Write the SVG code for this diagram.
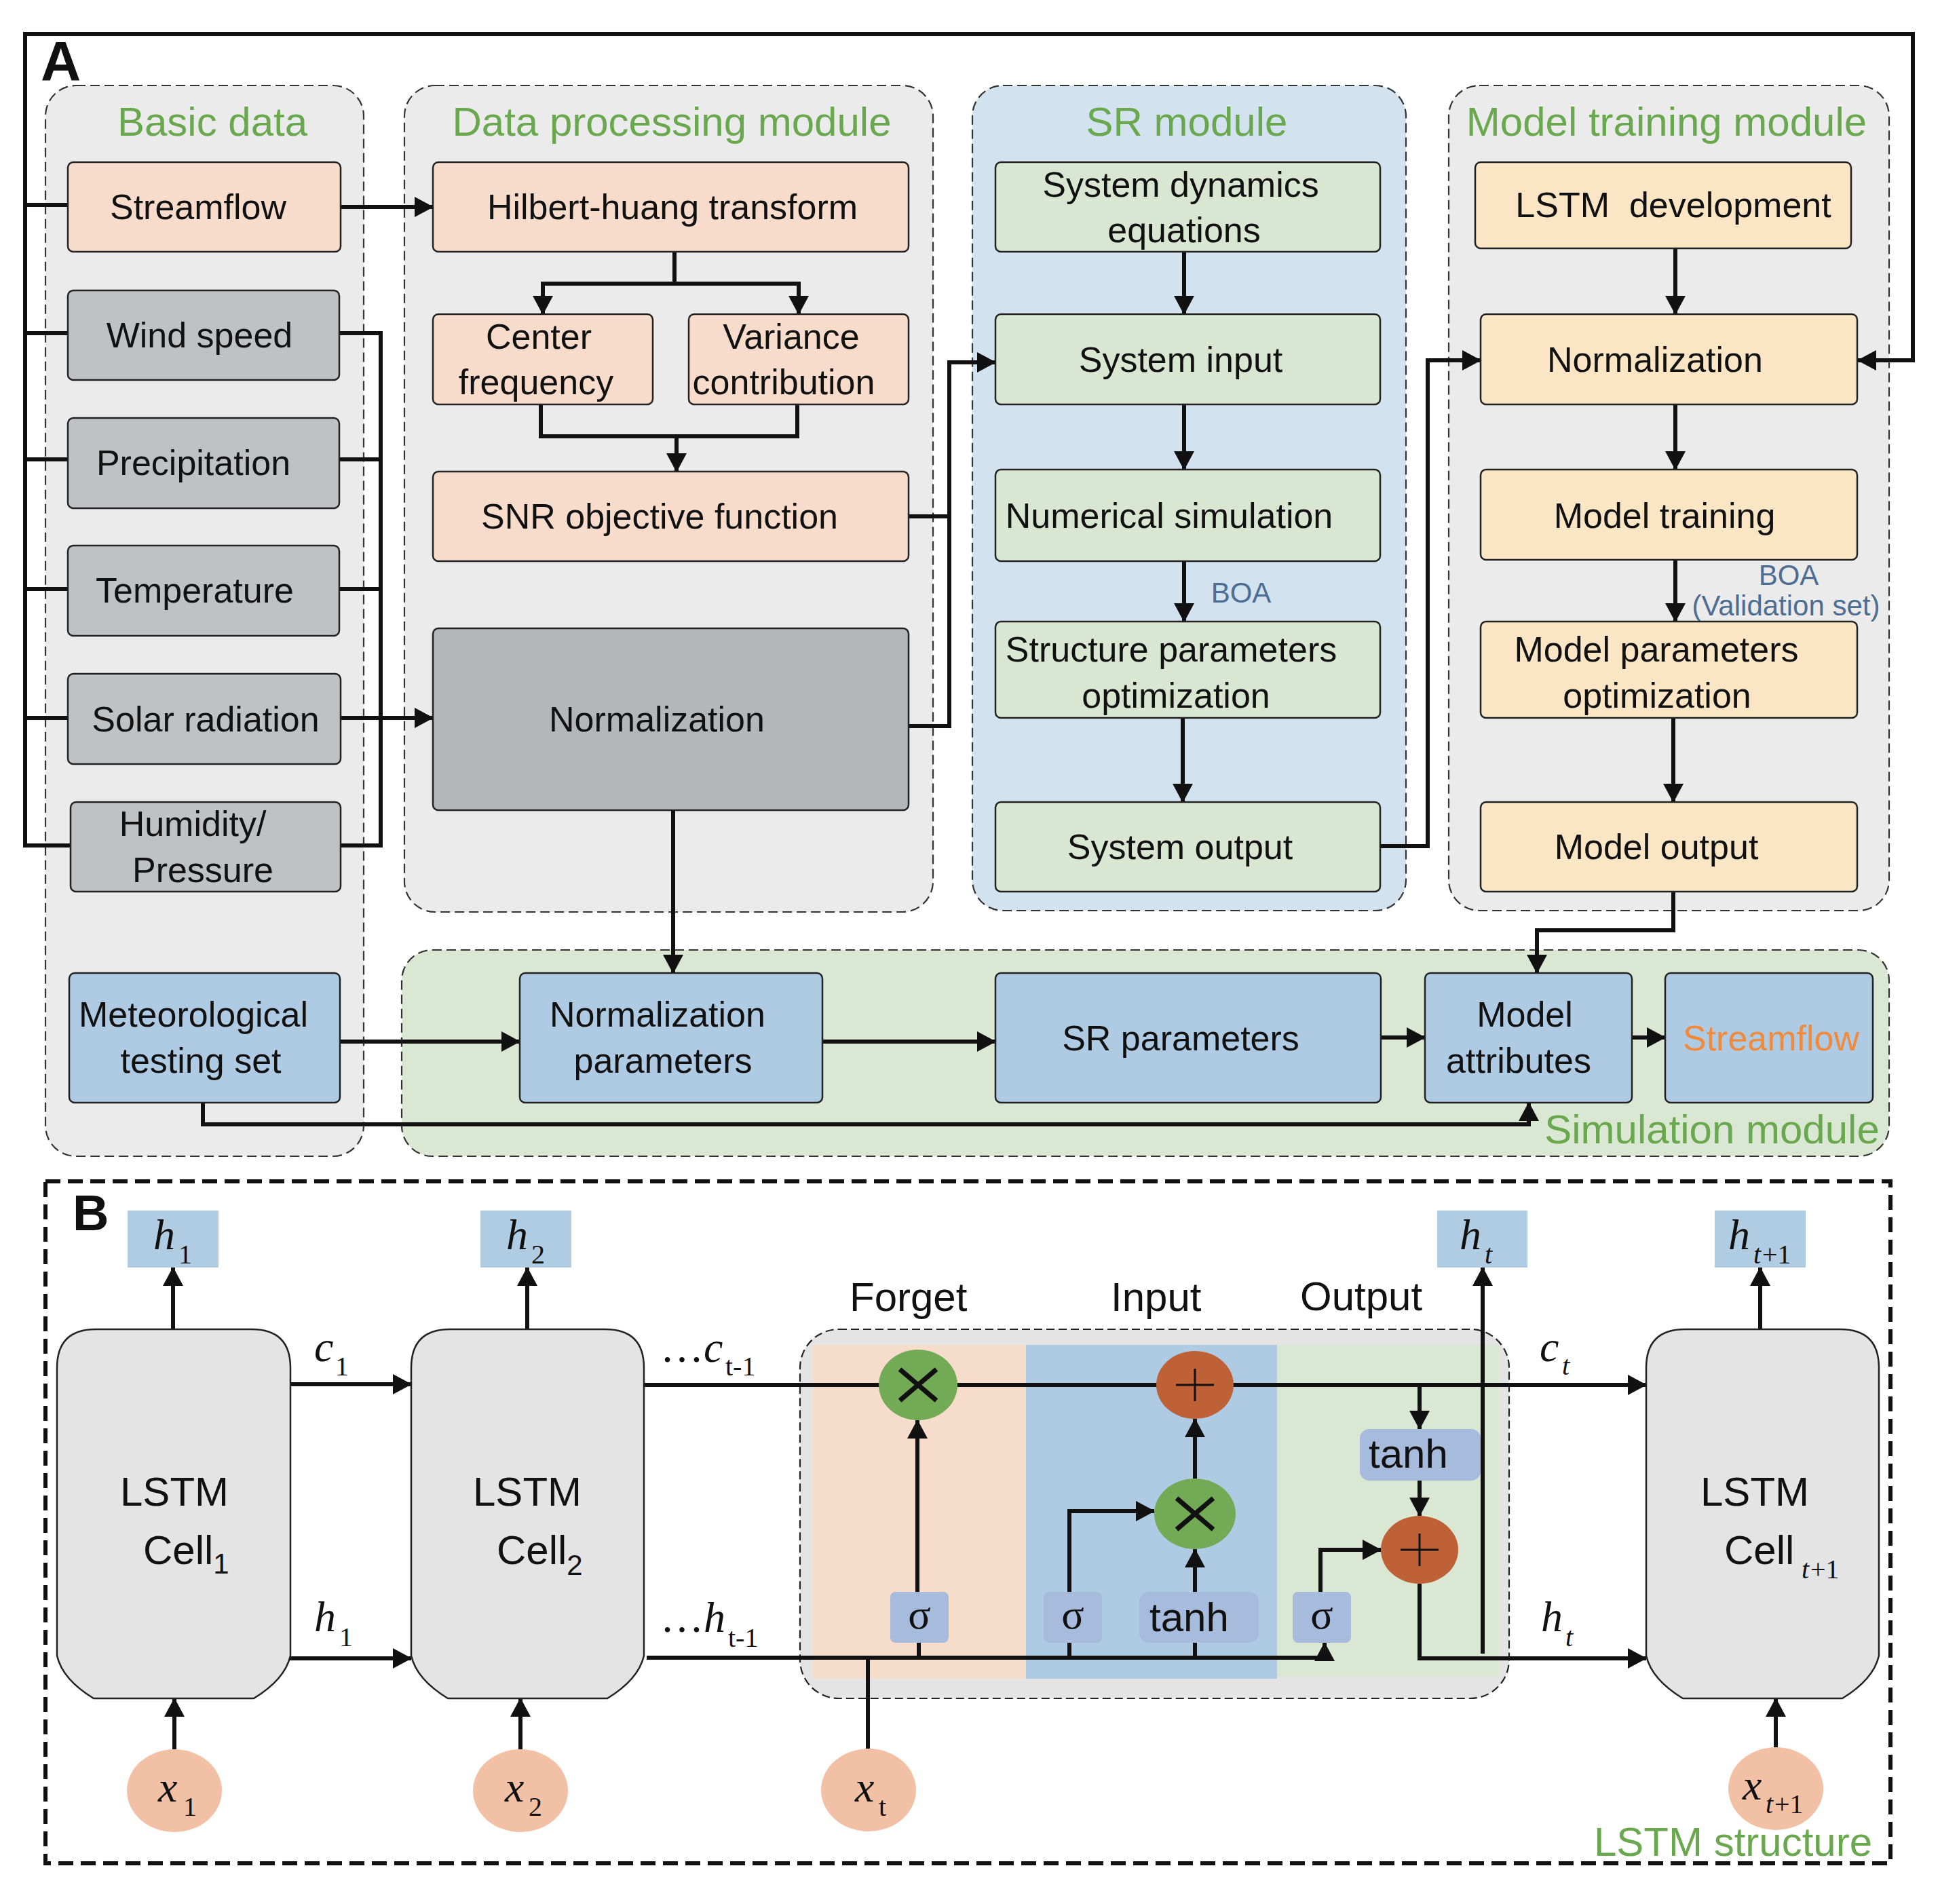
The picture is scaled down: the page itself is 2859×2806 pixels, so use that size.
<svg xmlns="http://www.w3.org/2000/svg" width="2859" height="2806" viewBox="0 0 2859 2806">
<defs>
<style>
.panel{stroke:#333;stroke-width:2.2;stroke-dasharray:14 7}
.pg{fill:#EBEBEB}
.box{stroke:#222;stroke-width:2.5}
.peach{fill:#F8DCCB}
.gray{fill:#C0C1C3}
.dgray{fill:#B5B6B8}
.green{fill:#D9E7D2}
.yellow{fill:#FAE6C5}
.blue{fill:#AECBE3}
.t{font-family:"Liberation Sans",Arial,Helvetica,sans-serif;font-size:52px;fill:#111;text-anchor:middle}
.ts{font-family:"Liberation Sans",Arial,Helvetica,sans-serif;font-size:60px;fill:#111}
.title{font-family:"Liberation Sans",Arial,Helvetica,sans-serif;font-size:60px;fill:#6AA84F;text-anchor:middle}
.boa{font-family:"Liberation Sans",Arial,Helvetica,sans-serif;font-size:42px;fill:#4D6D93;text-anchor:middle}
.conn{fill:none;stroke:#111;stroke-width:6}
.it{font-family:"Liberation Serif","Times New Roman",serif;font-style:italic;font-size:64px;fill:#111}
.sub{font-family:"Liberation Serif","Times New Roman",serif;font-size:40px;fill:#111}
.subi{font-family:"Liberation Serif","Times New Roman",serif;font-style:italic;font-size:40px;fill:#111}
.sig{font-family:"Liberation Serif","Times New Roman",serif;font-size:62px;fill:#111;text-anchor:middle}
.hbox{fill:#AFCCE3}
.sbox{fill:#A7BBDD}
.cell{fill:#E4E4E4;stroke:#222;stroke-width:2.5}
.xin{fill:#F2C0A4}
.mul{fill:#72AA55}
.add{fill:#BE6136}
</style>
<marker id="ah" markerUnits="userSpaceOnUse" markerWidth="28" markerHeight="30" refX="27" refY="15" orient="auto"><path d="M0,0 L28,15 L0,30 z" fill="#111"/></marker>
</defs>
<rect width="2859" height="2806" fill="#fff"/>

<!-- Panels -->
<g id="panel-basic"><rect class="panel pg" x="67" y="126" width="469" height="1578" rx="45"/><text class="title" x="313" y="200">Basic data</text></g>
<g id="panel-dataproc"><rect class="panel pg" x="596" y="126" width="779" height="1218" rx="45"/><text class="title" x="990" y="200">Data processing module</text></g>
<g id="panel-sr"><rect class="panel" fill="#D3E2EF" x="1433" y="126" width="639" height="1216" rx="45"/><text class="title" x="1749" y="200">SR module</text></g>
<g id="panel-model"><rect class="panel pg" x="2135" y="126" width="649" height="1216" rx="45"/><text class="title" x="2456" y="200">Model training module</text></g>
<g id="panel-sim"><rect class="panel" fill="#D9E7D3" x="592" y="1400" width="2192" height="304" rx="45"/><text class="title" x="2523" y="1685">Simulation module</text></g>

<text x="60" y="118" font-family="Liberation Sans,Arial,sans-serif" font-weight="bold" font-size="82" fill="#111">A</text>

<!-- Connectors A -->
<g id="connectors-a">
<path class="conn" d="M100,302 H37 V50 H2819 V531 H2738" marker-end="url(#ah)"/>
<path class="conn" d="M37,50 V1246 H104"/>
<path class="conn" d="M37,491 H100 M37,677 H100 M37,868 H100 M37,1058 H100"/>
<path class="conn" d="M500,491 H561 V1246 H502 M500,677 H561 M500,868 H561"/>
<path class="conn" d="M502,1058 H638" marker-end="url(#ah)"/>
<path class="conn" d="M502,305 H638" marker-end="url(#ah)"/>
<path class="conn" d="M994,371 V418 H800 V463" marker-end="url(#ah)"/>
<path class="conn" d="M994,418 H1177 V463" marker-end="url(#ah)"/>
<path class="conn" d="M797,596 V643 H1175 V596"/>
<path class="conn" d="M997,643 V695" marker-end="url(#ah)"/>
<path class="conn" d="M1339,761 H1399 V534 H1467" marker-end="url(#ah)"/>
<path class="conn" d="M1339,1070 H1399 V760"/>
<path class="conn" d="M992,1194 V1434" marker-end="url(#ah)"/>
<path class="conn" d="M1745,371 V463" marker-end="url(#ah)"/>
<path class="conn" d="M1745,596 V692" marker-end="url(#ah)"/>
<path class="conn" d="M1745,827 V916" marker-end="url(#ah)"/>
<path class="conn" d="M1743,1058 V1182" marker-end="url(#ah)"/>
<path class="conn" d="M2034,1247 H2104 V531 H2182" marker-end="url(#ah)"/>
<path class="conn" d="M2469,366 V463" marker-end="url(#ah)"/>
<path class="conn" d="M2469,596 V692" marker-end="url(#ah)"/>
<path class="conn" d="M2469,825 V916" marker-end="url(#ah)"/>
<path class="conn" d="M2466,1058 V1182" marker-end="url(#ah)"/>
<path class="conn" d="M2466,1314 V1371 H2265 V1434" marker-end="url(#ah)"/>
<path class="conn" d="M501,1535 H766" marker-end="url(#ah)"/>
<path class="conn" d="M1212,1535 H1467" marker-end="url(#ah)"/>
<path class="conn" d="M2035,1529 H2100" marker-end="url(#ah)"/>
<path class="conn" d="M2405,1529 H2454" marker-end="url(#ah)"/>
<path class="conn" d="M299,1625 V1657 H2253 V1625" marker-end="url(#ah)"/>
<text class="boa" x="1829" y="888">BOA</text>
<text class="boa" x="2636" y="862">BOA</text>
<text class="boa" x="2632" y="907">(Validation set)</text>
</g>

<!-- Nodes A -->
<g id="n-streamflow"><rect class="box peach" x="100" y="239" width="402" height="132" rx="8"/><text class="t" x="292" y="323">Streamflow</text></g>
<g id="n-wind"><rect class="box gray" x="100" y="428" width="400" height="132" rx="8"/><text class="t" x="294" y="512">Wind speed</text></g>
<g id="n-precip"><rect class="box gray" x="100" y="616" width="400" height="133" rx="8"/><text class="t" x="285" y="700">Precipitation</text></g>
<g id="n-temp"><rect class="box gray" x="100" y="804" width="400" height="133" rx="8"/><text class="t" x="287" y="888">Temperature</text></g>
<g id="n-solar"><rect class="box gray" x="100" y="993" width="402" height="133" rx="8"/><text class="t" x="303" y="1078">Solar radiation</text></g>
<g id="n-humid"><rect class="box gray" x="104" y="1182" width="398" height="132" rx="8"/><text class="t" x="284" y="1232">Humidity/</text><text class="t" x="299" y="1300">Pressure</text></g>
<g id="n-met"><rect class="box blue" x="102" y="1434" width="399" height="191" rx="8"/><text class="t" x="285" y="1513">Meteorological</text><text class="t" x="296" y="1581">testing set</text></g>

<g id="n-hht"><rect class="box peach" x="638" y="239" width="701" height="132" rx="8"/><text class="t" x="991" y="323">Hilbert-huang transform</text></g>
<g id="n-cf"><rect class="box peach" x="638" y="463" width="324" height="133" rx="8"/><text class="t" x="794" y="514">Center</text><text class="t" x="790" y="581">frequency</text></g>
<g id="n-vc"><rect class="box peach" x="1015" y="463" width="324" height="133" rx="8"/><text class="t" x="1166" y="514">Variance</text><text class="t" x="1155" y="581">contribution</text></g>
<g id="n-snr"><rect class="box peach" x="638" y="695" width="701" height="132" rx="8"/><text class="t" x="972" y="779">SNR objective function</text></g>
<g id="n-norm1"><rect class="box dgray" x="638" y="926" width="701" height="268" rx="8"/><text class="t" x="968" y="1078">Normalization</text></g>

<g id="n-sde"><rect class="box green" x="1467" y="239" width="567" height="132" rx="8"/><text class="t" x="1740" y="290">System dynamics</text><text class="t" x="1745" y="357">equations</text></g>
<g id="n-sin"><rect class="box green" x="1467" y="463" width="567" height="133" rx="8"/><text class="t" x="1740" y="548">System input</text></g>
<g id="n-num"><rect class="box green" x="1467" y="692" width="567" height="135" rx="8"/><text class="t" x="1723" y="778">Numerical simulation</text></g>
<g id="n-spo"><rect class="box green" x="1467" y="916" width="567" height="142" rx="8"/><text class="t" x="1726" y="975">Structure parameters</text><text class="t" x="1733" y="1043">optimization</text></g>
<g id="n-sout"><rect class="box green" x="1467" y="1182" width="567" height="132" rx="8"/><text class="t" x="1739" y="1266">System output</text></g>

<g id="n-lstmdev"><rect class="box yellow" x="2174" y="239" width="554" height="127" rx="8"/><text class="t" x="2466" y="320" xml:space="preserve">LSTM  development</text></g>
<g id="n-norm2"><rect class="box yellow" x="2182" y="463" width="555" height="133" rx="8"/><text class="t" x="2439" y="548">Normalization</text></g>
<g id="n-mtrain"><rect class="box yellow" x="2182" y="692" width="555" height="133" rx="8"/><text class="t" x="2453" y="778">Model training</text></g>
<g id="n-mpo"><rect class="box yellow" x="2182" y="916" width="555" height="142" rx="8"/><text class="t" x="2441" y="975">Model parameters</text><text class="t" x="2442" y="1043">optimization</text></g>
<g id="n-mout"><rect class="box yellow" x="2182" y="1182" width="555" height="132" rx="8"/><text class="t" x="2441" y="1266">Model output</text></g>

<g id="n-normp"><rect class="box blue" x="766" y="1434" width="446" height="191" rx="8"/><text class="t" x="969" y="1513">Normalization</text><text class="t" x="977" y="1581">parameters</text></g>
<g id="n-srp"><rect class="box blue" x="1467" y="1434" width="568" height="191" rx="8"/><text class="t" x="1740" y="1548">SR parameters</text></g>
<g id="n-mattr"><rect class="box blue" x="2100" y="1434" width="305" height="191" rx="8"/><text class="t" x="2247" y="1513">Model</text><text class="t" x="2238" y="1581">attributes</text></g>
<g id="n-sfout"><rect class="box blue" x="2454" y="1434" width="306" height="191" rx="8"/><text class="t" x="2610" y="1548" style="fill:#F08A3D">Streamflow</text></g>

<!-- Part B -->
<g id="panel-lstm">
<rect x="67" y="1741" width="2719" height="1005" fill="none" stroke="#111" stroke-width="6" stroke-dasharray="22 11"/>
<text x="107" y="1813" font-family="Liberation Sans,Arial,sans-serif" font-weight="bold" font-size="74" fill="#111">B</text>
<text class="title" x="2554" y="2735">LSTM structure</text>
</g>
<g id="gate-panel">
<rect x="1179" y="1959" width="1045" height="544" rx="57" fill="#E4E4E4" stroke="#222" stroke-width="2.2" stroke-dasharray="12 6"/>
<rect x="1198" y="1982" width="314" height="492" fill="#F6DCCB"/>
<rect x="1512" y="1982" width="370" height="492" fill="#AECBE3"/>
<rect x="1882" y="1982" width="327" height="489" fill="#D9E7D3"/>
<text class="ts" x="1252" y="1932">Forget</text>
<text class="ts" x="1637" y="1932">Input</text>
<text class="ts" x="1916" y="1931">Output</text>
</g>

<g id="connectors-b">
<path class="conn" d="M255,1959 V1868" marker-end="url(#ah)"/>
<path class="conn" d="M777,1959 V1868" marker-end="url(#ah)"/>
<path class="conn" d="M2185,2437 V1868" marker-end="url(#ah)"/>
<path class="conn" d="M2594,1959 V1868" marker-end="url(#ah)"/>
<path class="conn" d="M257,2578 V2503" marker-end="url(#ah)"/>
<path class="conn" d="M767,2578 V2503" marker-end="url(#ah)"/>
<path class="conn" d="M2617,2575 V2503" marker-end="url(#ah)"/>
<path class="conn" d="M428,2040 H606" marker-end="url(#ah)"/>
<path class="conn" d="M426,2444 H606" marker-end="url(#ah)"/>
<path class="conn" d="M949,2041 H2426" marker-end="url(#ah)"/>
<path class="conn" d="M953,2443 H1952 V2421" marker-end="url(#ah)"/>
<path class="conn" d="M1354,2443 V2420 M1576,2443 V2420 M1761,2443 V2420"/>
<path class="conn" d="M1279,2577 V2443"/>
<path class="conn" d="M1352,2346 V2093" marker-end="url(#ah)"/>
<path class="conn" d="M1576,2346 V2227 H1701" marker-end="url(#ah)"/>
<path class="conn" d="M1761,2346 V2283" marker-end="url(#ah)"/>
<path class="conn" d="M1761,2179 V2091" marker-end="url(#ah)"/>
<path class="conn" d="M2092,2041 V2106" marker-end="url(#ah)"/>
<path class="conn" d="M2092,2182 V2234" marker-end="url(#ah)"/>
<path class="conn" d="M1946,2346 V2284 H2035" marker-end="url(#ah)"/>
<path class="conn" d="M2092,2334 V2444 H2426" marker-end="url(#ah)"/>
<text class="it" x="463" y="2006">c</text><text class="sub" x="494" y="2027">1</text>
<text class="it" x="463" y="2404">h</text><text class="sub" x="500" y="2426">1</text>
<text class="it" x="973" y="2007"><tspan font-style="normal">…</tspan>c</text><text class="sub" x="1069" y="2027">t-1</text>
<text class="it" x="973" y="2405"><tspan font-style="normal">…</tspan>h</text><text class="sub" x="1073" y="2427">t-1</text>
<text class="it" x="2269" y="2006">c</text><text class="subi" x="2302" y="2026">t</text>
<text class="it" x="2271" y="2404">h</text><text class="subi" x="2307" y="2426">t</text>
</g>

<g id="n-h1"><rect class="hbox" x="188" y="1784" width="134" height="84"/><text class="it" x="226" y="1841">h</text><text class="sub" x="263" y="1862">1</text></g>
<g id="n-h2"><rect class="hbox" x="708" y="1784" width="134" height="84"/><text class="it" x="746" y="1841">h</text><text class="sub" x="783" y="1862">2</text></g>
<g id="n-ht"><rect class="hbox" x="2118" y="1784" width="133" height="84"/><text class="it" x="2151" y="1841">h</text><text class="subi" x="2188" y="1862">t</text></g>
<g id="n-ht1"><rect class="hbox" x="2527" y="1784" width="134" height="84"/><text class="it" x="2547" y="1841">h</text><text class="subi" x="2584" y="1862">t</text><text class="sub" x="2597" y="1862">+1</text></g>

<g id="n-cell1"><path class="cell" d="M141,1959 H371 Q428,1959 428,2016 V2440 Q420,2475 374,2503 H138 Q92,2475 84,2440 V2016 Q84,1959 141,1959 Z"/><text class="ts" x="177" y="2219">LSTM</text><text class="ts" x="211" y="2305">Cell<tspan font-size="42" dy="14">1</tspan></text></g>
<g id="n-cell2"><path class="cell" d="M663,1959 H892 Q949,1959 949,2016 V2440 Q941,2475 895,2503 H660 Q614,2475 606,2440 V2016 Q606,1959 663,1959 Z"/><text class="ts" x="697" y="2219">LSTM</text><text class="ts" x="732" y="2305">Cell<tspan font-size="42" dy="16">2</tspan></text></g>
<g id="n-cell3"><path class="cell" d="M2483,1959 H2712 Q2769,1959 2769,2016 V2440 Q2761,2475 2715,2503 H2480 Q2434,2475 2426,2440 V2016 Q2426,1959 2483,1959 Z"/><text class="ts" x="2506" y="2219">LSTM</text><text class="ts" x="2541" y="2305">Cell</text><text class="subi" x="2655" y="2326">t</text><text class="sub" x="2668" y="2326">+1</text></g>

<g id="n-x1"><ellipse class="xin" cx="257" cy="2639" rx="70" ry="61"/><text class="it" x="233" y="2655">x</text><text class="sub" x="270" y="2676">1</text></g>
<g id="n-x2"><ellipse class="xin" cx="767" cy="2639" rx="70" ry="61"/><text class="it" x="744" y="2655">x</text><text class="sub" x="779" y="2676">2</text></g>
<g id="n-xt"><ellipse class="xin" cx="1280" cy="2638" rx="70" ry="61"/><text class="it" x="1260" y="2655">x</text><text class="sub" x="1295" y="2676">t</text></g>
<g id="n-xt1"><ellipse class="xin" cx="2617" cy="2636" rx="70" ry="61"/><text class="it" x="2568" y="2652">x</text><text class="subi" x="2602" y="2672">t</text><text class="sub" x="2615" y="2672">+1</text></g>

<g id="n-fmul"><ellipse class="mul" cx="1353" cy="2041" rx="58" ry="52"/><path d="M1326,2018 L1380,2064 M1380,2018 L1326,2064" stroke="#111" stroke-width="7"/></g>
<g id="n-iadd"><ellipse class="add" cx="1761" cy="2041" rx="57" ry="50"/><path d="M1733,2041 H1789 M1761,2017 V2065" stroke="#111" stroke-width="3"/></g>
<g id="n-imul"><ellipse class="mul" cx="1761" cy="2231" rx="60" ry="52"/><path d="M1734,2208 L1788,2254 M1788,2208 L1734,2254" stroke="#111" stroke-width="7"/></g>
<g id="n-oadd"><ellipse class="add" cx="2092" cy="2284" rx="57" ry="50"/><path d="M2064,2284 H2120 M2092,2260 V2308" stroke="#111" stroke-width="3"/></g>

<g id="n-fsig"><rect class="sbox" x="1312" y="2346" width="86" height="75" rx="8"/><text class="sig" x="1355" y="2400">σ</text></g>
<g id="n-isig"><rect class="sbox" x="1538" y="2346" width="86" height="75" rx="8"/><text class="sig" x="1581" y="2400">σ</text></g>
<g id="n-itanh"><rect class="sbox" x="1679" y="2346" width="176" height="75" rx="14"/><text class="ts" x="1694" y="2404" font-size="64">tanh</text></g>
<g id="n-osig"><rect class="sbox" x="1905" y="2346" width="86" height="75" rx="8"/><text class="sig" x="1948" y="2400">σ</text></g>
<g id="n-otanh"><rect class="sbox" x="2004" y="2106" width="178" height="76" rx="14"/><text class="ts" x="2017" y="2163" font-size="64">tanh</text></g>
</svg>
